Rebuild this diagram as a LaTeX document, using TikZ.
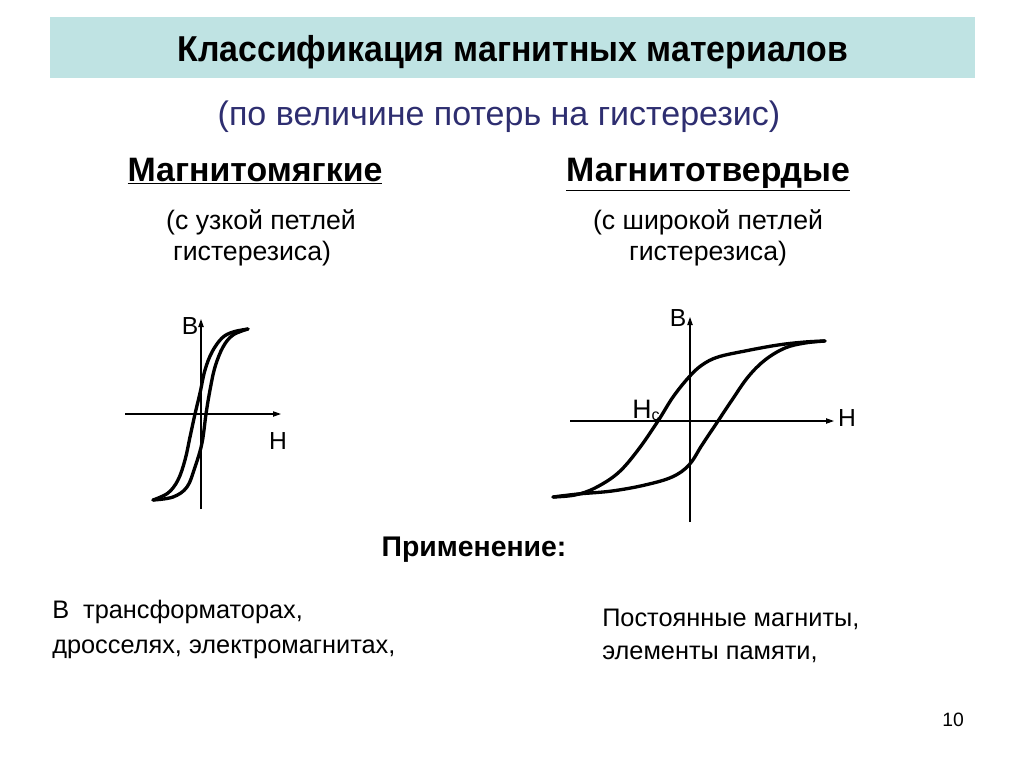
\documentclass[tikz,border=0pt]{standalone}
\usepackage{fontspec}
\setmainfont{Liberation Sans}
\usetikzlibrary{arrows.meta}
\definecolor{band}{HTML}{BFE3E3}
\definecolor{navy}{HTML}{2E2E70}
\begin{document}
\begin{tikzpicture}[x=0.75pt,y=-0.75pt,
  axis/.style={line width=0.9pt,-{Triangle[length=6pt,width=4pt]}},
  hloop/.style={line width=2.5pt,line cap=round,line join=round},
  lbl/.style={inner sep=0pt,anchor=base},
  ttl/.style={lbl,font=\fontsize{27}{32}\selectfont\bfseries},
  sub/.style={lbl,text=navy,font=\fontsize{25.5}{30}\selectfont},
  head/.style={lbl,font=\fontsize{25.4}{30}\selectfont\bfseries},
  note/.style={lbl,font=\fontsize{20}{24}\selectfont},
  body/.style={lbl,anchor=base west,font=\fontsize{19}{23}\selectfont},
  axl/.style={lbl,font=\fontsize{18.5}{22}\selectfont}]
\useasboundingbox (0,0) rectangle (1024,768);
\fill[band] (50,17) rectangle (975,78);
\node[ttl] (title) at (513,61) {\scalebox{0.94}[1]{Классификация магнитных материалов}};
\node[sub] (subtitle) at (499,125) {(по величине потерь на гистерезис)};

\node[head] (soft) at (255,181) {\underline{Магнитомягкие}};
\node[note] (soft1) at (261,229) {(с узкой петлей};
\node[note] (soft2) at (252,260) {гистерезиса)};

\node[head] (hard) at (708,181) {\underline{Магнитотвердые}};
\node[note] (hard1) at (708,229) {(с широкой петлей};
\node[note] (hard2) at (708,260) {гистерезиса)};

% soft loop axes
\coordinate (s-b0) at (201,509);
\coordinate (s-b1) at (201,319);
\coordinate (s-h0) at (125,414);
\coordinate (s-h1) at (281,414);
\draw[axis] (s-b0) -- (s-b1);
\draw[axis] (s-h0) -- (s-h1);
\node[axl] (s-B) at (190,334) {B};
\node[axl] (s-H) at (278,449) {H};
% soft loop
\draw[hloop] plot[smooth,tension=0.6] coordinates {(248,329) (233,332) (222,338) (212,352) (205,370) (200,393) (195,414) (190,437) (185,460) (178,480) (168,493) (153,500)};
\draw[hloop] plot[smooth,tension=0.6] coordinates {(153,500) (173,497) (187,487) (195,467) (202,443) (206,414) (210,390) (215,367) (223,347) (233,335) (248,329)};

% hard loop axes
\coordinate (h-b0) at (690,522);
\coordinate (h-b1) at (690,317);
\coordinate (h-h0) at (570,421);
\coordinate (h-h1) at (834,421);
\draw[axis] (h-b0) -- (h-b1);
\draw[axis] (h-h0) -- (h-h1);
\node[axl] (h-B) at (678,326) {B};
\node[axl] (h-H) at (847,426) {H};
\node[axl,anchor=base west,font=\fontsize{20}{24}\selectfont] (h-Hc) at (632,418) {H\raisebox{-0.2ex}{\fontsize{12}{13}\selectfont c}};
% hard loop
\draw[hloop] plot[smooth,tension=0.6] coordinates {(553,497) (575,495) (595,488) (618,473) (638,450) (658,421) (673,397) (689,377) (702,365) (718,357) (745,351) (778,345) (805,342) (825,341)};
\draw[hloop] plot[smooth,tension=0.6] coordinates {(553,497) (578,494) (612,491) (645,485) (672,477) (689,465) (702,445) (718,421) (732,400) (748,377) (765,360) (785,348) (805,343) (825,341)};

\node[lbl,font=\fontsize{21.3}{25}\selectfont\bfseries] (use) at (474,556) {Применение:};
\node[body] (soft-use1) at (52,618) {В\ \ трансформаторах,};
\node[body] (soft-use2) at (52,653) {дросселях, электромагнитах,};
\node[body] (hard-use1) at (602,626) {Постоянные магниты,};
\node[body] (hard-use2) at (602,659) {элементы памяти,};
\node[lbl,font=\fontsize{14.5}{16}\selectfont] (page) at (953,726) {10};
\end{tikzpicture}
\end{document}
